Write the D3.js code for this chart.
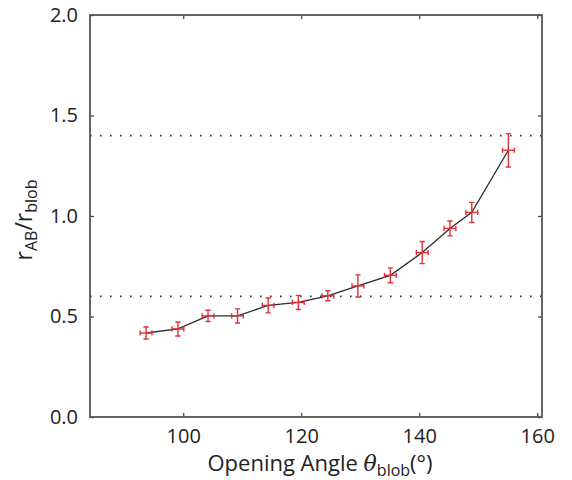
<!DOCTYPE html>
<html>
<head>
<meta charset="utf-8">
<script src="https://cdn.jsdelivr.net/npm/d3@7"></script>
<style>
  body { margin: 0; background: #fff; }
  text { font-family: "Open Sans", "Noto Sans", sans-serif; fill: #222; }
</style>
</head>
<body>
<div id="chart"></div>
<script>
(function () {

// opening angle (deg) and its uncertainty
const angle    = [93.7, 99.1, 104.2, 109.2, 114.4, 119.5, 124.5, 129.6, 135.1, 140.5, 145.2, 148.9, 155.1];
const angleErr = [1, 1, 1, 1, 1, 1, 1, 1, 1, 1, 1, 1, 1];
// ratio r_AB / r_blob and its uncertainty
const ratio    = [0.418, 0.438, 0.503, 0.503, 0.555, 0.570, 0.603, 0.652, 0.705, 0.818, 0.938, 1.018, 1.327];
const ratioErr = [0.030, 0.035, 0.028, 0.035, 0.037, 0.035, 0.025, 0.055, 0.037, 0.055, 0.037, 0.050, 0.083];
// reference levels drawn as dotted lines
const refLevels = [0.6, 1.4];

const xTicks = [100, 120, 140, 160];
const yTicks = [0, 0.5, 1.0, 1.5, 2.0];

const margin = {top: 15, right: 30, bottom: 63, left: 90};
const W = 572, H = 480;
const width = W - margin.left - margin.right,
      height = H - margin.top - margin.bottom;

const svg = d3.select("#chart").append("svg")
    .attr("width", W)
    .attr("height", H);

const g = svg.append("g")
    .attr("transform", `translate(${margin.left},${margin.top})`);

const x = d3.scaleLinear().domain([84.2, 160.8]).range([0, width]);
const y = d3.scaleLinear().domain([0, 2]).range([height, 0]);

const data = angle.map((a, i) => ({a, ae: angleErr[i], r: ratio[i], re: ratioErr[i]}));

// dotted reference lines
g.selectAll(".ref")
  .data(refLevels)
  .join("line")
    .attr("x1", 0).attr("x2", width)
    .attr("y1", d => y(d)).attr("y2", d => y(d))
    .attr("stroke", "#333")
    .attr("stroke-width", 1.6)
    .attr("stroke-dasharray", "1.6,8.4");

// line joining the points
const line = d3.line()
    .x(d => x(d.a))
    .y(d => y(d.r));

g.append("path")
    .datum(data)
    .attr("d", line)
    .attr("fill", "none")
    .attr("stroke", "#2b2b2b")
    .attr("stroke-width", 1.3);

// error bars
const red = "#e0303a";
const cap = 2.6;
const eb = g.append("g").attr("stroke", red).attr("stroke-width", 1.4).attr("fill", "none");
const pt = eb.selectAll("g").data(data).join("g");

pt.append("line")
    .attr("x1", d => x(d.a)).attr("x2", d => x(d.a))
    .attr("y1", d => y(d.r - d.re)).attr("y2", d => y(d.r + d.re));
pt.append("line")
    .attr("x1", d => x(d.a - d.ae)).attr("x2", d => x(d.a + d.ae))
    .attr("y1", d => y(d.r)).attr("y2", d => y(d.r));
// caps
pt.append("path")
    .attr("d", d => {
      const cx = x(d.a), cy = y(d.r);
      const t = y(d.r + d.re), b = y(d.r - d.re);
      const l = x(d.a - d.ae), r = x(d.a + d.ae);
      return `M${cx - cap},${t}H${cx + cap}M${cx - cap},${b}H${cx + cap}` +
             `M${l},${cy - cap}V${cy + cap}M${r},${cy - cap}V${cy + cap}`;
    });

// axes with inward ticks on all four sides
const tick = 4;
g.append("g")
    .attr("transform", `translate(0,${height})`)
    .call(d3.axisBottom(x).tickValues(xTicks).tickSize(-tick).tickPadding(12).tickFormat(d3.format("d")))
    .call(a => a.select(".domain").remove());
g.append("g")
    .call(d3.axisTop(x).tickValues(xTicks).tickSize(-tick).tickFormat(""))
    .call(a => a.select(".domain").remove());
g.append("g")
    .call(d3.axisLeft(y).tickValues(yTicks).tickSize(-tick).tickPadding(12).tickFormat(d3.format(".1f")))
    .call(a => a.select(".domain").remove());
g.append("g")
    .attr("transform", `translate(${width},0)`)
    .call(d3.axisRight(y).tickValues(yTicks).tickSize(-tick).tickFormat(""))
    .call(a => a.select(".domain").remove());

g.selectAll(".tick line").attr("stroke", "#444").attr("stroke-width", 1.3);
g.selectAll(".tick text")
    .attr("font-size", 20)
    .attr("font-family", "'Open Sans', 'Noto Sans', sans-serif")
    .attr("fill", "#222");

// frame
g.append("rect")
    .attr("width", width).attr("height", height)
    .attr("fill", "none")
    .attr("stroke", "#555")
    .attr("stroke-width", 1.8);

// axis titles
const xt = svg.append("text")
    .attr("x", margin.left + width / 2 + 4)
    .attr("y", 471)
    .attr("text-anchor", "middle")
    .attr("font-size", 22);
xt.append("tspan").text("Opening Angle ");
xt.append("tspan").attr("font-style", "italic").attr("font-family", "'DejaVu Serif', serif").text("θ");
xt.append("tspan").attr("font-size", 16).attr("dy", 5).text("blob");
xt.append("tspan").attr("dy", -5).text("(°)");

const yt = svg.append("text")
    .attr("transform", `translate(32,${margin.top + height / 2 + 4}) rotate(-90)`)
    .attr("text-anchor", "middle")
    .attr("font-size", 23);
yt.append("tspan").text("r");
yt.append("tspan").attr("font-size", 16).attr("dy", 5).text("AB");
yt.append("tspan").attr("dy", -5).text("/r");
yt.append("tspan").attr("font-size", 16).attr("dy", 5).text("blob");

})()
</script>
</body>
</html>
